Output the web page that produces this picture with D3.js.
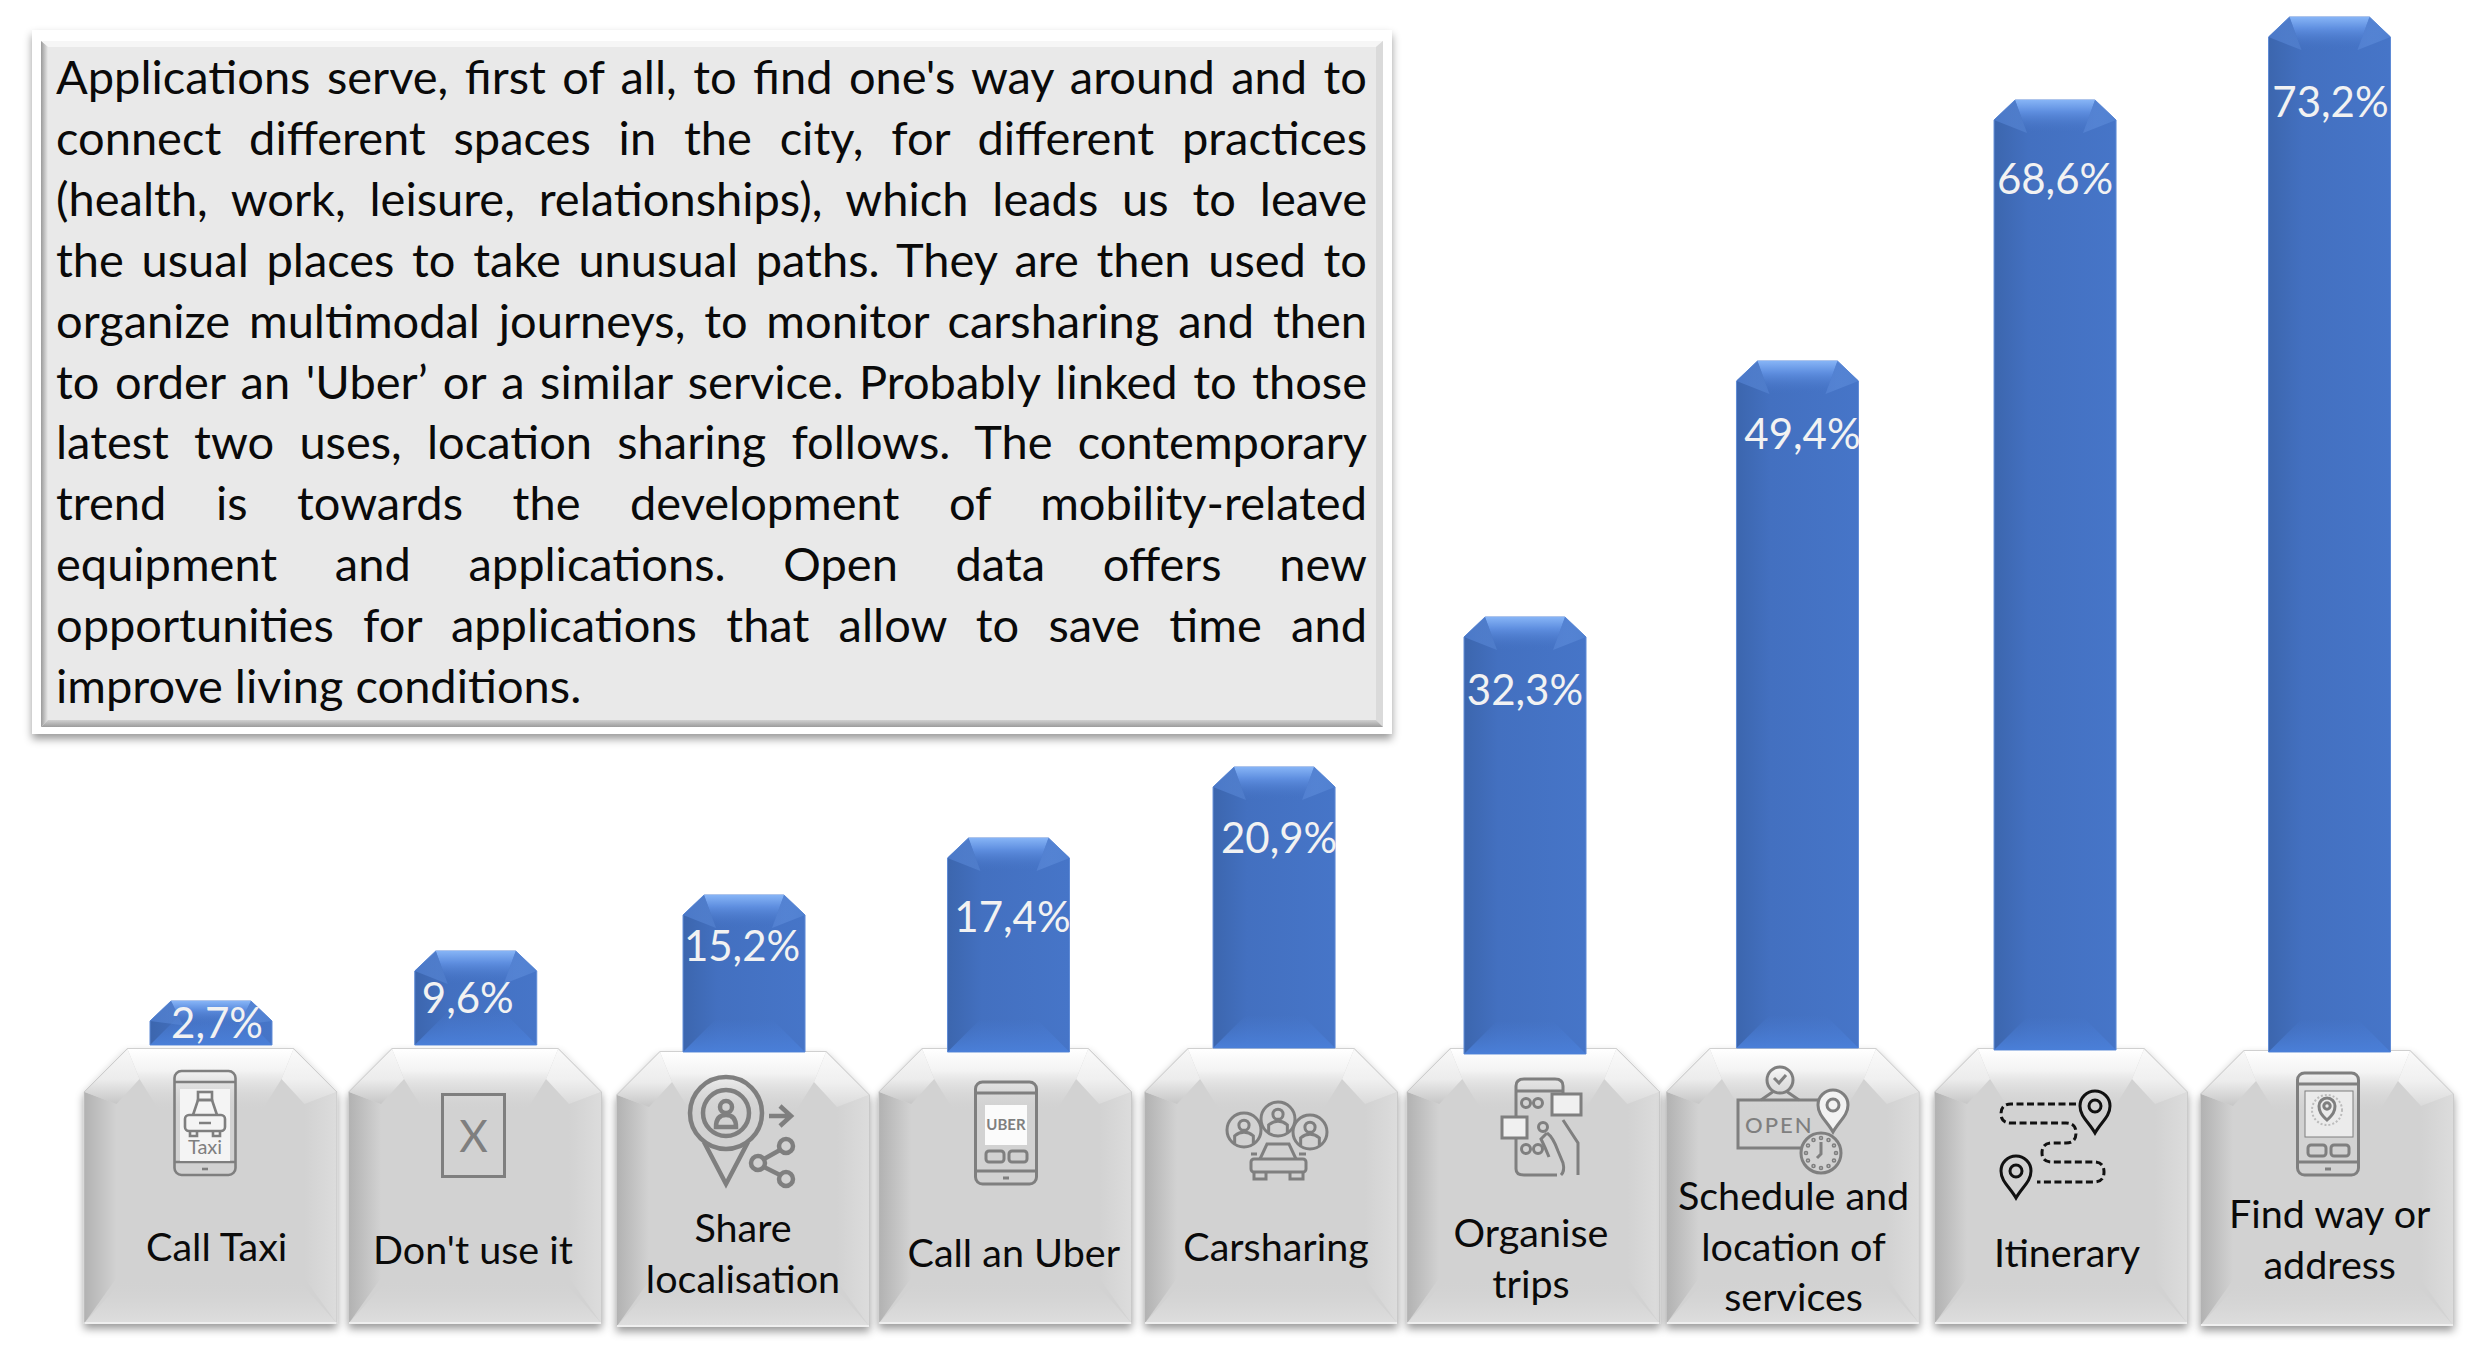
<!DOCTYPE html>
<html>
<head>
<meta charset="utf-8">
<script src="https://cdn.jsdelivr.net/npm/d3@7"></script>
<style>
  html, body { margin: 0; background: #fff; }
  svg { display: block; }
  text { font-family: Lato, "Open Sans", sans-serif; }
</style>
</head>
<body>
<div id="chart"></div>
<script>
// Data
const categories = ['Call Taxi', "Don't use it", 'Share localisation', 'Call an Uber', 'Carsharing',
    'Organise trips', 'Schedule and location of services', 'Itinerary', 'Find way or address']
const values = [2.7, 9.6, 15.2, 17.4, 20.9, 32.3, 49.4, 68.6, 73.2]
const categoryLines = [['Call Taxi'], ["Don't use it"], ['Share', 'localisation'], ['Call an Uber'], ['Carsharing'],
    ['Organise', 'trips'], ['Schedule and', 'location of', 'services'], ['Itinerary'], ['Find way or', 'address']]
const noteLines = [
    "Applications serve, first of all, to find one's way around and to",
    'connect different spaces in the city, for different practices',
    '(health, work, leisure, relationships), which leads us to leave',
    'the usual places to take unusual paths. They are then used to',
    'organize multimodal journeys, to monitor carsharing and then',
    "to order an 'Uber’ or a similar service. Probably linked to those",
    'latest two uses, location sharing follows. The contemporary',
    'trend is towards the development of mobility-related',
    'equipment and applications. Open data offers new',
    'opportunities for applications that allow to save time and',
    'improve living conditions.'
]

// Layout
const width = 2480
const height = 1348
const barWidth = 122
const cardTop = 1049
const cardBottom = 1323

// the bars in the source are hand placed and not proportional to their labels,
// so the value scale is calibrated bar by bar
const y = d3.scaleLinear()
    .domain(values)
    .range([1001, 951, 895, 838, 767, 617, 361, 100, 17])
const x = d3.scaleBand()
    .domain(categories)
    .range([84.5, 2453])
    .paddingInner(0.0475)

// small hand offsets of the source, same order as categories
const cardNudgeX = [0, 0, 3.4, 1, 2.3, 0, -5, -1.4, 0]
const cardNudgeY = [0, 0, 3, 0, 0, 0, 0, 0, 2]
const barNudgeX = [0.5, 0.7, 4.4, 4.3, 5.3, -8.3, -0.4, -7.4, 2.5]
const barFoot = [1045, 1045, 1052, 1052, 1048, 1054, 1048, 1050, 1052]
const valueDrop = [22, 47, 51, 79, 71, 73, 73, 79, 85]
const valueNudgeX = [6, -8, -2, 4, 5, 0, 5, 0, 1]
const labelX = [216.7, 473, 743, 1013.8, 1276, 1531, 1793.6, 2067, 2329.7]
const labelY = [1248, 1251, 1229, 1254, 1248, 1234, 1197, 1254, 1215]
const iconAt = [[205, 1123], [473.5, 1135.5], [726, 1113], [1006, 1133], [1278, 1119], [1533, 1127], [1780, 1110], [2055, 1150], [2328, 1124]]

const svg = d3.select('#chart').append('svg')
    .attr('width', width)
    .attr('height', height)
const defs = svg.append('defs')

function gradient(id, dir, stops) {
    const g = defs.append('linearGradient')
        .attr('id', id)
        .attr('x1', dir === 'left' ? '100%' : '0%')
        .attr('y1', dir === 'up' ? '100%' : '0%')
        .attr('x2', dir === 'right' ? '100%' : '0%')
        .attr('y2', dir === 'down' ? '100%' : '0%')
    stops.forEach(s => g.append('stop')
        .attr('offset', s[0])
        .attr('stop-color', s[1])
        .attr('stop-opacity', s[2] === undefined ? 1 : s[2]))
}

gradient('bar-body', 'right', [[0, '#3c66ae'], [0.28, '#4370c0'], [1, '#4675c8']])
gradient('bar-top', 'down', [[0, '#86b4f6'], [0.35, '#5f8fe0'], [1, '#4472c4', 0]])
gradient('bar-corner-l', 'right', [[0, '#4a78c8'], [1, '#5f8edc', 0.4]])
gradient('bar-corner-r', 'left', [[0, '#5080d0'], [1, '#6492e0', 0.4]])
gradient('bar-foot', 'down', [[0, '#4a7cd4', 0], [1, '#4a7fd8']])
gradient('card-body', 'right', [[0, '#d2d2d2'], [1, '#d2d2d2']])
gradient('card-top', 'down', [[0, '#ffffff'], [0.35, '#f3f3f3'], [1, '#d2d2d2', 0]])
gradient('card-corner-l', 'down', [[0, '#f8f8f8'], [0.55, '#ececec'], [1, '#c6c6c6']])
gradient('card-corner-r', 'down', [[0, '#fafafa'], [0.55, '#f0f0f0'], [1, '#dadada']])
gradient('card-side-l', 'right', [[0, '#b2b2b2'], [1, '#d2d2d2']])
gradient('card-side-r', 'left', [[0, '#dcdcdc'], [1, '#d2d2d2']])
gradient('card-foot', 'down', [[0, '#d2d2d2', 0], [1, '#dedede']])
gradient('box-left', 'right', [[0, '#9a9a9a'], [1, '#e9e9e9']])
gradient('box-bottom', 'down', [[0, '#d0d0d0'], [1, '#9c9c9c']])

const shadow = defs.append('filter')
    .attr('id', 'soft-shadow')
    .attr('x', '-5%').attr('y', '-5%')
    .attr('width', '110%').attr('height', '112%')
shadow.append('feDropShadow')
    .attr('dx', 0).attr('dy', 5)
    .attr('stdDeviation', 4)
    .attr('flood-color', '#000')
    .attr('flood-opacity', 0.4)

const poly = (g, pts, fill) => g.append('polygon')
    .attr('points', pts.map(p => p.join(',')).join(' '))
    .attr('fill', fill)

// Note box
const note = svg.append('g').attr('class', 'note')
note.append('rect')
    .attr('x', 32).attr('y', 30)
    .attr('width', 1360).attr('height', 704)
    .attr('fill', '#fff')
    .attr('filter', 'url(#soft-shadow)')
note.append('rect')
    .attr('x', 41).attr('y', 41)
    .attr('width', 1342).attr('height', 686)
    .attr('fill', '#e9e9e9')
poly(note, [[41, 41], [1383, 41], [1376, 47], [48, 47]], '#f6f6f6')
poly(note, [[41, 41], [48, 47], [48, 720], [41, 727]], 'url(#box-left)')
poly(note, [[1383, 41], [1376, 47], [1376, 720], [1383, 727]], '#dadada')
poly(note, [[41, 727], [48, 720], [1376, 720], [1383, 727]], 'url(#box-bottom)')

const noteX0 = 56
const noteX1 = 1367
const noteFirstY = 94
const noteStep = 60.9
note.selectAll('text.note-line')
    .data(noteLines)
    .join('text')
    .attr('class', 'note-line')
    .attr('x', noteX0)
    .attr('y', (d, i) => noteFirstY + i * noteStep)
    .attr('font-size', 47)
    .attr('fill', '#0a0a0a')
    .text(d => d)
    .each(function (d, i) {
        // justify by hand, the last line stays flush left
        if (i === noteLines.length - 1) return
        const gaps = d.split(' ').length - 1
        const extra = (noteX1 - noteX0 - this.getComputedTextLength()) / gaps
        d3.select(this).attr('word-spacing', extra)
    })

// Cards
const cardG = svg.append('g').attr('class', 'cards')
categories.forEach((c, i) => {
    const L = x(c) + cardNudgeX[i]
    const R = L + x.bandwidth()
    const T = cardTop + cardNudgeY[i]
    const B = cardBottom + cardNudgeY[i]
    const g = cardG.append('g')
    poly(g, [[L, T + 43], [L + 43, T], [R - 43, T], [R, T + 43], [R, B], [L, B]], 'url(#card-body)')
        .attr('stroke', '#c4c4c4')
        .attr('stroke-width', 1.5)
        .attr('filter', 'url(#soft-shadow)')
    poly(g, [[L, T + 43], [L + 32, T + 55], [L + 32, B - 45], [L, B]], 'url(#card-side-l)')
    poly(g, [[R, T + 43], [R - 32, T + 55], [R - 32, B - 45], [R, B]], 'url(#card-side-r)')
    poly(g, [[L, B], [R, B], [R - 40, B - 45], [L + 40, B - 45]], 'url(#card-foot)')
    poly(g, [[L + 43, T], [R - 43, T], [R - 55, T + 30], [R - 75, T + 62], [L + 75, T + 62], [L + 55, T + 30]], 'url(#card-top)')
    poly(g, [[L, T + 43], [L + 43, T], [L + 55, T + 30], [L + 32, T + 55]], 'url(#card-corner-l)')
    poly(g, [[R, T + 43], [R - 43, T], [R - 55, T + 30], [R - 32, T + 55]], 'url(#card-corner-r)')
    g.append('line')
        .attr('x1', L).attr('x2', R)
        .attr('y1', B).attr('y2', B)
        .attr('stroke', '#efefef')
        .attr('stroke-width', 2)
})

// Icons, each drawn around its own origin
const iconGrey = '#7f7f7f'
function iconGroup(i, color) {
    return svg.append('g')
        .attr('class', 'icon')
        .attr('transform', `translate(${iconAt[i][0]},${iconAt[i][1]})`)
        .attr('fill', 'none')
        .attr('stroke', color || iconGrey)
        .attr('stroke-width', 3)
}
function phone(g, w, h, scr) {
    g.append('rect').attr('x', -w / 2).attr('y', -h / 2).attr('width', w).attr('height', h).attr('rx', 7)
    g.append('line').attr('x1', -w / 2).attr('x2', w / 2).attr('y1', -h / 2 + 11).attr('y2', -h / 2 + 11)
    g.append('line').attr('x1', -w / 2).attr('x2', w / 2).attr('y1', h / 2 - 13).attr('y2', h / 2 - 13)
    g.append('line').attr('x1', -3).attr('x2', 3).attr('y1', h / 2 - 6).attr('y2', h / 2 - 6)
    if (scr) {
        g.append('rect').attr('x', scr[0]).attr('y', scr[1]).attr('width', scr[2]).attr('height', scr[3])
            .attr('fill', scr[4]).attr('stroke', scr[5] || 'none').attr('stroke-width', 1)
    }
}
function pin(g, cx, cy, r, tip, fill) {
    g.append('path')
        .attr('d', `M${cx},${cy + tip}C${cx - 6},${cy + tip * 0.6} ${cx - r},${cy + r * 0.7} ${cx - r},${cy}A${r},${r} 0 1 1 ${cx + r},${cy}C${cx + r},${cy + r * 0.7} ${cx + 6},${cy + tip * 0.6} ${cx},${cy + tip}Z`)
        .attr('fill', fill || 'none')
    g.append('circle').attr('cx', cx).attr('cy', cy).attr('r', r * 0.4)
}
function person(g, cx, cy, r) {
    g.append('circle').attr('cx', cx).attr('cy', cy).attr('r', r)
    g.append('circle').attr('cx', cx).attr('cy', cy - r * 0.28).attr('r', r * 0.3)
    g.append('path').attr('d', `M${cx - r * 0.55},${cy + r * 0.8}V${cy + r * 0.35}Q${cx},${cy - r * 0.1} ${cx + r * 0.55},${cy + r * 0.35}V${cy + r * 0.8}`)
}
function sideButtons(g, yy, w) {
    g.append('rect').attr('x', -w - 2).attr('y', yy).attr('width', w).attr('height', 11).attr('rx', 3)
    g.append('rect').attr('x', 3).attr('y', yy).attr('width', w).attr('height', 11).attr('rx', 3)
}

// call taxi
{
    const g = iconGroup(0)
    phone(g, 61, 104, [-25, -34, 50, 72, '#f4f4f4'])
    g.attr('stroke-width', 2.6)
    g.append('rect').attr('x', -7).attr('y', -31).attr('width', 14).attr('height', 8)
    g.append('path').attr('d', 'M-12,-8L-7,-23H7L12,-8')
    g.append('rect').attr('x', -20).attr('y', -8).attr('width', 40).attr('height', 16).attr('rx', 4)
    g.append('path').attr('d', 'M-15,8V13H-8V8M8,8V13H15V8M-6,0H6')
    g.append('text').attr('x', 0).attr('y', 31).attr('text-anchor', 'middle')
        .attr('font-size', 20).attr('fill', iconGrey).attr('stroke', 'none').text('Taxi')
}
// nothing
{
    const g = iconGroup(1)
    g.append('rect').attr('x', -31).attr('y', -41).attr('width', 62).attr('height', 82)
    g.append('text').attr('x', 0).attr('y', 16).attr('text-anchor', 'middle')
        .attr('font-size', 44).attr('fill', iconGrey).attr('stroke', 'none').text('X')
}
// share location
{
    const g = iconGroup(2).attr('stroke-width', 4.5)
    g.append('path').attr('d', 'M-22,29L0,71L22,29')
    g.append('circle').attr('r', 36)
    g.append('circle').attr('r', 23)
    g.append('circle').attr('cy', -6).attr('r', 6)
    g.append('path').attr('d', 'M-10,14Q-10,2 0,2Q10,2 10,14Z')
    g.append('path').attr('d', 'M43,3H64M54,-7L65,3L54,13')
    g.append('circle').attr('cx', 60).attr('cy', 33).attr('r', 7)
    g.append('circle').attr('cx', 32).attr('cy', 50).attr('r', 7)
    g.append('circle').attr('cx', 60).attr('cy', 66).attr('r', 7)
    g.append('path').attr('d', 'M38,46L54,37M38,54L54,62')
}
// uber
{
    const g = iconGroup(3)
    phone(g, 61, 102, [-21, -28, 42, 40, '#fbfbfb'])
    g.append('text').attr('x', 0).attr('y', -3).attr('text-anchor', 'middle')
        .attr('font-size', 15).attr('font-weight', 700).attr('fill', iconGrey).attr('stroke', 'none').text('UBER')
    sideButtons(g, 18, 18)
}
// carsharing
{
    const g = iconGroup(4)
    person(g, -34, 11, 17)
    person(g, 0, 0, 17)
    person(g, 32, 13, 17)
    g.append('path').attr('d', 'M-18,40L-11,25H11L18,40')
    g.append('rect').attr('x', -27).attr('y', 40).attr('width', 55).attr('height', 13).attr('rx', 3)
    g.append('path').attr('d', 'M-24,53V60H-12V53M12,53V60H25V53M-27,35H-21M21,35H28')
}
// organise trips
{
    const g = iconGroup(5)
    g.append('path').attr('d', 'M30,-14V-41Q30,-48 22,-48H-9Q-17,-48 -17,-41V42Q-17,48 -9,48H24')
    g.append('line').attr('x1', -17).attr('x2', 30).attr('y1', -36).attr('y2', -36)
    ;[[-7, -24], [5, -24], [10, 0], [-7, 22], [5, 22]].forEach(p => g.append('circle')
        .attr('cx', p[0]).attr('cy', p[1]).attr('r', 4.5))
    g.append('path').attr('d', 'M30,-7L45,16V48M14,6Q20,10 25,24L30,36Q32,44 28,48')
    g.append('path').attr('d', 'M14,6L8,12Q12,20 16,30')
    g.append('rect').attr('x', 19).attr('y', -33).attr('width', 29).attr('height', 21).attr('fill', '#f0f0f0')
    g.append('rect').attr('x', -31).attr('y', -10).attr('width', 25).attr('height', 21).attr('fill', '#f0f0f0')
}
// schedule
{
    const g = iconGroup(6)
    g.append('circle').attr('cy', -30).attr('r', 13)
    g.append('path').attr('d', 'M-6,-32L-1,-27L6,-35M-6,-19L-19,-10M6,-19L19,-10')
    g.append('path').attr('d', 'M38,-10H-42V38H22')
    g.append('text').attr('x', -35).attr('y', 23).attr('font-size', 22).attr('letter-spacing', 2)
        .attr('font-weight', 500).attr('fill', iconGrey).attr('stroke', 'none').text('OPEN')
    pin(g, 53, -5, 15, 27, '#f2f2f2')
    g.append('circle').attr('cx', 41).attr('cy', 43).attr('r', 20)
    g.append('path').attr('d', 'M41,32V44L37,48')
    d3.range(12).forEach(k => g.append('circle')
        .attr('cx', 41 + 15 * Math.cos(k * Math.PI / 6))
        .attr('cy', 43 + 15 * Math.sin(k * Math.PI / 6))
        .attr('r', 0.8))
}
// itinerary
{
    const g = iconGroup(7, '#111')
    pin(g, 40, -44, 15, 27)
    pin(g, -39, 21, 15, 27)
    g.append('path')
        .attr('d', 'M21,-46H-44Q-54,-46 -54,-36Q-54,-27 -44,-27H11Q21,-27 21,-17Q21,-7 11,-7H-3Q-13,-7 -13,3Q-13,12 -3,12H39Q49,12 49,22Q49,32 39,32H-18')
        .attr('stroke-dasharray', '7 3.5')
}
// find way
{
    const g = iconGroup(8)
    phone(g, 61, 102, [-23, -33, 48, 46, '#ebebeb', iconGrey])
    pin(g, -1, -18, 8, 14)
    g.append('circle').attr('cx', -1).attr('cy', -14).attr('r', 15).attr('stroke', '#bbb').attr('stroke-dasharray', '2 2').attr('stroke-width', 2)
    sideButtons(g, 21, 18)
}

// Category labels
svg.append('g').attr('class', 'category-labels')
    .selectAll('text')
    .data(categoryLines)
    .join('text')
    .attr('text-anchor', 'middle')
    .attr('font-size', 39.5)
    .attr('fill', '#0a0a0a')
    .each(function (lines, i) {
        d3.select(this).selectAll('tspan')
            .data(lines)
            .join('tspan')
            .attr('x', labelX[i])
            .attr('y', (d, j) => labelY[i] + 13 + j * 50.6)
            .text(d => d)
    })

// Bars
const bars = svg.append('g').attr('class', 'bars')
values.forEach((v, i) => {
    const mid = x(categories[i]) + x.bandwidth() / 2 + barNudgeX[i]
    const L = mid - barWidth / 2
    const R = mid + barWidth / 2
    const T = y(v)
    const B = barFoot[i]
    const g = bars.append('g')
    const depth = Math.min(33, (B - T) * 0.55)
    poly(g, [[L, T + 20], [L + 21, T], [R - 21, T], [R, T + 20], [R, B], [L, B]], 'url(#bar-body)')
        .attr('stroke', '#5f8bd6')
        .attr('stroke-width', 1)
    poly(g, [[L, B], [R, B], [R - 33, B - 33], [L + 33, B - 33]], 'url(#bar-foot)')
    poly(g, [[L + 21, T], [R - 21, T], [R - 33, T + depth], [L + 33, T + depth]], 'url(#bar-top)')
    poly(g, [[L, T + 20], [L + 21, T], [L + 33, T + depth]], 'url(#bar-corner-l)')
    poly(g, [[R, T + 20], [R - 21, T], [R - 33, T + depth]], 'url(#bar-corner-r)')
    g.append('text')
        .attr('x', mid + valueNudgeX[i])
        .attr('y', T + valueDrop[i] + 15)
        .attr('text-anchor', 'middle')
        .attr('font-size', 42)
        .attr('fill', '#f2f2f2')
        .text(`${v.toFixed(1).replace('.', ',')}%`)
})
</script>
</body>
</html>
